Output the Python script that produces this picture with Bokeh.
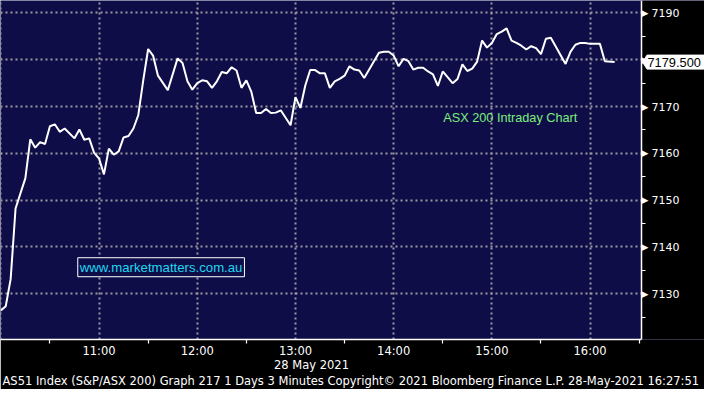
from bokeh.plotting import figure
from bokeh.models import FixedTicker, Label, Range1d, ColumnDataSource, BoxAnnotation
from bokeh.embed import file_html
from bokeh.resources import INLINE

# ---- data (ASX 200 intraday, 3-minute bars, 28 May 2021) ----
times = ["10:00", "10:03", "10:06", "10:09", "10:15", "10:18", "10:21", "10:24", "10:27", "10:30",
         "10:33", "10:36", "10:39", "10:45", "10:48", "10:51", "10:54", "10:57", "11:00", "11:03",
         "11:06", "11:09", "11:12", "11:15", "11:18", "11:21", "11:24", "11:27", "11:30", "11:33",
         "11:36", "11:42", "11:48", "11:51", "11:54", "11:57", "12:00", "12:03", "12:06", "12:09",
         "12:12", "12:15", "12:18", "12:21", "12:24", "12:27", "12:30", "12:33", "12:36", "12:39",
         "12:42", "12:45", "12:48", "12:51", "12:57", "13:00", "13:03", "13:06", "13:09", "13:12",
         "13:15", "13:18", "13:21", "13:24", "13:27", "13:30", "13:33", "13:36", "13:39", "13:42",
         "13:51", "13:54", "13:57", "14:00", "14:03", "14:06", "14:09", "14:12", "14:15", "14:18",
         "14:21", "14:24", "14:27", "14:30", "14:36", "14:39", "14:42", "14:45", "14:48", "14:51",
         "14:54", "14:57", "15:00", "15:03", "15:06", "15:09", "15:12", "15:15", "15:18", "15:21",
         "15:24", "15:27", "15:30", "15:33", "15:36", "15:45", "15:48", "15:51", "15:54", "15:57",
         "16:00", "16:06", "16:09", "16:15"]
prices = [7126.4, 7127.3, 7133.1, 7148.2, 7154.7, 7163.0, 7161.2, 7162.4, 7162.0, 7165.8,
          7166.2, 7164.6, 7165.3, 7163.2, 7165.1, 7162.9, 7163.2, 7160.1, 7158.9, 7155.5,
          7161.0, 7159.7, 7160.4, 7163.4, 7163.7, 7165.3, 7168.2, 7175.6, 7182.3, 7180.9,
          7176.6, 7173.5, 7180.3, 7179.3, 7175.4, 7173.6, 7175.0, 7175.6, 7175.4, 7174.0,
          7175.4, 7177.4, 7177.1, 7178.4, 7177.7, 7174.0, 7175.6, 7173.2, 7168.6, 7168.6,
          7169.5, 7168.6, 7168.7, 7169.2, 7166.0, 7172.0, 7169.7, 7174.5, 7177.8, 7177.8,
          7177.1, 7177.1, 7174.0, 7175.4, 7175.9, 7176.6, 7178.6, 7177.9, 7177.7, 7176.1,
          7181.5, 7181.7, 7181.7, 7180.9, 7178.6, 7180.2, 7179.7, 7177.9, 7178.3, 7178.3,
          7177.5, 7176.9, 7174.4, 7177.5, 7175.0, 7175.9, 7179.0, 7177.6, 7178.1, 7179.6,
          7184.1, 7182.6, 7183.6, 7185.5, 7186.0, 7186.7, 7184.1, 7183.6, 7183.0, 7182.2,
          7182.9, 7182.5, 7181.2, 7184.5, 7184.7, 7179.1, 7181.7, 7183.2, 7183.6, 7183.6,
          7183.4, 7183.4, 7179.7, 7179.5]
last_price = 7179.5
last_label = "7179.500"

x_tick_labels = ["11:00", "12:00", "13:00", "14:00", "15:00", "16:00"]
y_ticks = [7130, 7140, 7150, 7160, 7170, 7180, 7190]
y_minor = [7125, 7135, 7145, 7155, 7165, 7175, 7185]

chart_title = "ASX 200 Intraday Chart"
website = "www.marketmatters.com.au"
date_text = "28 May 2021"
footer = ("AS51 Index (S&P/ASX 200) Graph 217 1 Days 3 Minutes Copyright\u00a9 2021 "
          "Bloomberg Finance L.P. 28-May-2021 16:27:51")


def to_min(t):
    h, m = t.split(":")
    return (int(h) - 10) * 60 + int(m)


NAVY = "#0f0d48"
GRID = "#9a9aa0"
FONT = "DejaVu Sans"

W, H = 704, 389
CHART_W = 641                     # width of the navy chart area in pixels
FRAME_H = 339                     # height of the plot frame in pixels
X0, X1 = -0.2, 391.4              # time span (minutes after 10:00) of the chart area
XEND = X0 + (X1 - X0) * W / CHART_W
Y0, Y1 = 7120.2, 7192.67
KX = (X1 - X0) / CHART_W          # data units per pixel
KY = (Y1 - Y0) / FRAME_H

p = figure(width=W, height=H, x_range=Range1d(X0, XEND), y_range=Range1d(Y0, Y1),
           y_axis_location="right", output_backend="svg", toolbar_location=None,
           min_border_left=0, min_border_top=0, min_border_right=0, min_border_bottom=H - FRAME_H,
           background_fill_color=NAVY, border_fill_color="black", outline_line_color=None)

# black area right of the chart (price scale region)
p.add_layout(BoxAnnotation(left=X1, fill_color="black", fill_alpha=1, line_color=None,
                           level="underlay"))

src = ColumnDataSource(dict(x=[to_min(t) for t in times], y=prices))
p.line("x", "y", source=src, line_color="white", line_width=2)

# x axis
xt = [to_min(t) for t in x_tick_labels]
p.xaxis.ticker = FixedTicker(ticks=xt, minor_ticks=[v - 30 for v in xt] + [xt[-1] + 30])
p.xaxis.major_label_overrides = {v: lab for v, lab in zip(xt, x_tick_labels)}
p.xaxis.bounds = (X0, X1)
p.xgrid.ticker = FixedTicker(ticks=[0] + xt)

# y axis drawn at the right edge of the chart area
p.yaxis.fixed_location = X1
p.yaxis.ticker = FixedTicker(ticks=y_ticks, minor_ticks=y_minor)
p.ygrid.ticker = FixedTicker(ticks=y_ticks)

for ax in (p.xaxis[0], p.yaxis[0]):
    ax.axis_line_color = "white"
    ax.axis_line_width = 1.5
    ax.major_tick_out = 0
    ax.major_tick_in = 0
    ax.minor_tick_out = 4
    ax.minor_tick_in = 0
    ax.minor_tick_line_color = "white"
    ax.minor_tick_line_width = 1.2
    ax.major_label_text_color = "white"
    ax.major_label_text_font = FONT
p.xaxis.major_label_text_font_size = "11.5px"
p.yaxis.major_label_text_font_size = "11px"
p.xaxis.major_label_standoff = 0
p.yaxis.major_label_standoff = 6

for g in (p.xgrid[0], p.ygrid[0]):
    g.grid_line_color = GRID
    g.grid_line_dash = "2 3"
    g.grid_line_width = 2

# tick arrows on the price scale
for v in y_ticks:
    p.add_layout(Label(x=X1, y=v, text="\u25b6", text_color="white", text_font=FONT,
                       text_font_size="9px", text_align="left", text_baseline="middle",
                       x_offset=0))

# last price tag: pointed white box right of the axis
tag_x = [X1 + 1 * KX, X1 + 5.5 * KX, XEND, XEND, X1 + 5.5 * KX]
tag_y = [last_price, last_price + 7 * KY, last_price + 7 * KY,
         last_price - 7 * KY, last_price - 7 * KY]
p.patch(tag_x, tag_y, fill_color="white", line_color="white", line_width=1)
p.add_layout(Label(x=X1, y=last_price, text=last_label, text_color="black",
                   text_font="Liberation Sans", text_font_size="12.8px",
                   text_align="left", text_baseline="middle", x_offset=6))

# in-plot texts
p.add_layout(Label(x=270.3, y=7167.6, text=chart_title, text_color="#7cee7c",
                   text_font="Liberation Sans", text_font_size="12.7px",
                   text_align="left", text_baseline="middle"))
p.add_layout(Label(x=47.0, y=7135.65, text=website, text_color="#1fd8ee",
                   text_font="Liberation Sans", text_font_size="13.2px",
                   text_align="left", text_baseline="middle",
                   border_line_color="white", border_line_width=1,
                   background_fill_color=NAVY, padding=2))

# texts below the chart
p.add_layout(Label(x=189.8, y=Y0, y_offset=-25, text=date_text, text_color="white",
                   text_font=FONT, text_font_size="11.5px", text_align="center",
                   text_baseline="middle"), "below")
p.add_layout(Label(x=X0, y=Y0, x_offset=2, y_offset=-41, text=footer,
                   text_color="white", text_font=FONT, text_font_size="11.5px",
                   text_align="left", text_baseline="middle"), "below")

open("out.html", "w").write(file_html(p, INLINE))
